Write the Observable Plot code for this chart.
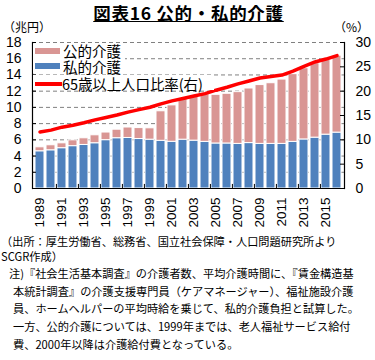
<!DOCTYPE html>
<html><head><meta charset="utf-8">
<script src="https://cdn.jsdelivr.net/npm/d3@7"></script>
<script src="https://cdn.jsdelivr.net/npm/@observablehq/plot@0.6"></script>
<style>
body{margin:0;background:#fff;}
#wrap{position:relative;width:375px;height:360px;overflow:hidden;font-family:"Noto Sans CJK JP",sans-serif;color:#000;}
.abs{position:absolute;white-space:nowrap;line-height:1;}
</style>
</head><body>
<div id="wrap">
  <div id="chart" class="abs" style="left:0;top:0"></div>
  <div class="abs" style="left:0;width:377px;top:4px;text-align:center;font-size:17.5px;font-weight:bold;text-decoration:underline;letter-spacing:0.7px;">図表16 公的・私的介護</div>
  <div class="abs" style="left:3px;top:21px;font-size:12px;">（兆円）</div>
  <div class="abs" style="left:334px;top:21px;font-size:12px;">（%）</div>
  <div id="legend"></div>
  <div id="foot"></div>
</div>
<script>
const years = [1989,1990,1991,1992,1993,1994,1995,1996,1997,1998,1999,2000,2001,2002,2003,2004,2005,2006,2007,2008,2009,2010,2011,2012,2013,2014,2015,2016];
const privateCare = [4.59,4.71,4.97,5.22,5.37,5.58,5.96,6.20,6.23,6.10,6.02,5.88,5.76,6.02,5.90,5.75,5.55,5.55,5.50,5.60,5.50,5.50,5.50,5.75,6.05,6.27,6.64,6.89];
const publicCare = [0.49,0.62,0.60,0.72,0.82,0.98,0.94,1.05,1.29,1.35,1.40,3.64,4.49,5.01,5.50,5.87,6.00,6.13,6.38,6.73,7.25,7.48,7.93,8.35,8.78,9.17,9.26,9.49];
const elderlyRatio = [11.6,12.0,12.6,13.0,13.5,14.1,14.6,15.1,15.7,16.2,16.7,17.4,18.0,18.5,19.0,19.5,20.2,20.8,21.5,22.1,22.7,23.0,23.3,24.1,25.1,26.0,26.6,27.3];
const leftTicks = [0,2,4,6,8,10,12,14,16,18];
const rightTicks = [0,5,10,15,20,25,30];
const yearLabels = [1989,1991,1993,1995,1997,1999,2001,2003,2005,2007,2009,2011,2013,2015];
const seriesNames = ["私的介護","公的介護"];
const lineName = "65歳以上人口比率(右)";
const colors = {"私的介護":"#4F81BD","公的介護":"#D99694"};
const lineColor = "#FF0000";

const leftMax = 18, rightMax = 30;
const toLeft = v => v * leftMax / rightMax;

const rows = [];
years.forEach((yr,i)=>{ rows.push({year:yr, kind:"私的介護", value:privateCare[i]}); });
years.forEach((yr,i)=>{ rows.push({year:yr, kind:"公的介護", value:publicCare[i]}); });
const lineRows = years.map((yr,i)=>({year:yr, r:elderlyRatio[i]}));
const tickYears = yearLabels.slice(1);

const W = 375, H = 236, mL = 32, mR = 31;
const frameW = W - mL - mR;
const chart = Plot.plot({
  width: W, height: H,
  marginLeft: mL, marginRight: mR, marginTop: 42, marginBottom: 48,
  style: {fontFamily: "'Liberation Sans', Arial, sans-serif", fontSize: "14px", background: "transparent", color: "#000"},
  x: {type: "band", domain: years, paddingInner: 0.22, paddingOuter: 0.1, axis: null, label: null},
  y: {domain: [0, leftMax], axis: null, label: null},
  color: {domain: seriesNames, range: seriesNames.map(s=>colors[s])},
  marks: [
    Plot.gridY(leftTicks.filter(d=>d>0), {stroke: "#808080", strokeOpacity: 1, strokeDasharray: "4,3", strokeWidth: 1}),
    Plot.barY(rows, {x: "year", y: "value", fill: "kind", stroke: "#fff", strokeWidth: 1}),
    Plot.ruleY([0], {stroke: "#000", strokeWidth: 1.2}),
    Plot.frame({anchor: "left", stroke: "#000", strokeWidth: 1.2}),
    Plot.frame({anchor: "right", stroke: "#000", strokeWidth: 1.2}),
    Plot.ruleX(tickYears, {x: d=>d, y1: 0, y2: 0.5, dx: -5.6, stroke: "#000"}),
    Plot.tickY(leftTicks, {y: d=>d, insetRight: frameW - 4, stroke: "#000"}),
    Plot.tickY(rightTicks, {y: d=>toLeft(d), insetLeft: frameW - 4, stroke: "#000"}),
    Plot.lineY(lineRows, {x: "year", y: d=>toLeft(d.r), stroke: lineColor, strokeWidth: 3.5, curve: "linear"}),
    Plot.axisY({anchor: "left", ticks: leftTicks, tickSize: 0, tickPadding: 11, fontSize: 14, label: null}),
    Plot.axisY({anchor: "right", ticks: rightTicks.map(toLeft), tickFormat: d => String(Math.round(d * rightMax / leftMax)), tickSize: 0, tickPadding: 11, fontSize: 14, textAnchor: "start", label: null}),
    Plot.axisX({ticks: yearLabels, tickFormat: d => String(d), tickRotate: -90, tickSize: 0, tickPadding: 9, fontSize: 13.5, label: null})
  ]
});
document.getElementById("chart").appendChild(chart);

// legend (HTML overlay)
const lg = document.getElementById("legend");
lg.innerHTML = `
  <div class="abs" style="left:33px;top:44px;width:92px;height:29px;background:#fff"></div>
  <div class="abs" style="left:33px;top:75px;width:181px;height:15px;background:#fff"></div>
  <div class="abs" style="left:35px;top:48px;width:25px;height:6px;background:${colors["公的介護"]}"></div>
  <div class="abs" style="left:35px;top:63px;width:25px;height:6px;background:${colors["私的介護"]}"></div>
  <div class="abs" style="left:35px;top:82px;width:27px;height:3.5px;background:${lineColor}"></div>
  <div class="abs" style="left:63px;top:44px;font-size:14.5px;">${seriesNames[1]}</div>
  <div class="abs" style="left:63px;top:60px;font-size:14.5px;">${seriesNames[0]}</div>
  <div class="abs" style="left:62px;top:77px;font-size:14.5px;letter-spacing:-0.1px;">${lineName}</div>`;

const sourceLines = ["（出所：厚生労働省、総務省、国立社会保障・人口問題研究所より","SCGR作成）"];
const noteLines = [
  "注)『社会生活基本調査』の介護者数、平均介護時間に、『賃金構造基",
  "本統計調査』の介護支援専門員（ケアマネージャー）、福祉施設介護",
  "員、ホームヘルパーの平均時給を乗じて、私的介護負担と試算した。",
  "一方、公的介護については、1999年までは、老人福祉サービス給付",
  "費、2000年以降は介護給付費となっている。"
];
const ft = document.getElementById("foot");
let html = "";
html += `<div class="abs" style="left:1px;top:236px;font-size:11.2px;">${sourceLines[0]}</div>`;
html += `<div class="abs" style="left:1px;top:251px;font-size:11.2px;">${sourceLines[1]}</div>`;
const noteTops = [268,286,303,321,339];
noteLines.forEach((t,i)=>{
  html += `<div class="abs" style="left:${i===0?9:13}px;top:${noteTops[i]}px;font-size:11.2px;">${t}</div>`;
});
ft.innerHTML = html;
</script>
</body></html>
